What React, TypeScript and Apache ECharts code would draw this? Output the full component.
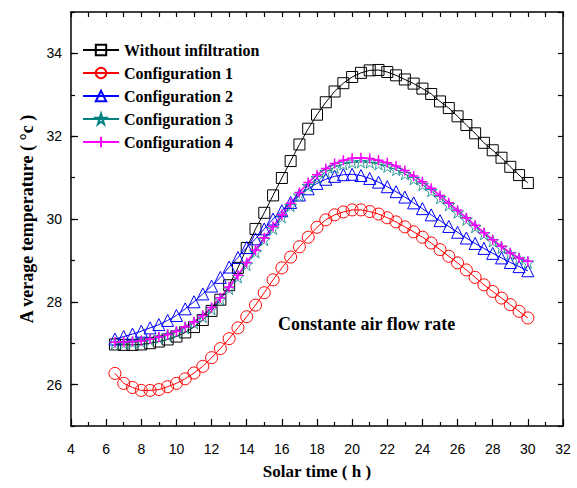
import React, { useEffect, useRef } from "react";
import * as echarts from "echarts";

// Solar time (h)
const hours = [
  6.5, 7, 7.5, 8, 8.5, 9, 9.5, 10, 10.5, 11, 11.5, 12, 12.5, 13, 13.5, 14,
  14.5, 15, 15.5, 16, 16.5, 17, 17.5, 18, 18.5, 19, 19.5, 20, 20.5, 21, 21.5,
  22, 22.5, 23, 23.5, 24, 24.5, 25, 25.5, 26, 26.5, 27, 27.5, 28, 28.5, 29,
  29.5, 30,
];

// Average temperature (°C) for each case
const withoutInfiltration = [
  26.97, 26.96, 26.96, 26.97, 27.0, 27.04, 27.09, 27.16, 27.26, 27.39, 27.56,
  27.78, 28.05, 28.4, 28.82, 29.3, 29.76, 30.15, 30.57, 30.99, 31.4, 31.8,
  32.18, 32.52, 32.82, 33.08, 33.28, 33.43, 33.53, 33.59, 33.6, 33.55, 33.47,
  33.37, 33.27, 33.15, 33.02, 32.84, 32.68, 32.48, 32.27, 32.07, 31.84, 31.66,
  31.48, 31.26, 31.06, 30.87,
];
const configuration1 = [
  26.27, 26.03, 25.93, 25.86, 25.86, 25.88, 25.95, 26.03, 26.14, 26.28, 26.44,
  26.65, 26.87, 27.11, 27.37, 27.64, 27.92, 28.22, 28.53, 28.82, 29.08, 29.33,
  29.56, 29.8, 29.98, 30.1, 30.17, 30.22, 30.22, 30.18, 30.12, 30.03, 29.93,
  29.81, 29.69, 29.56, 29.42, 29.26, 29.1, 28.94, 28.77, 28.59, 28.41, 28.25,
  28.09, 27.93, 27.77, 27.61,
];
const configuration2 = [
  27.1, 27.16, 27.22, 27.29, 27.37, 27.45, 27.55, 27.67, 27.83, 28.0, 28.19,
  28.38, 28.59, 28.84, 29.07, 29.31, 29.52, 29.76, 30.0, 30.2, 30.4, 30.58,
  30.73, 30.86, 30.96, 31.03, 31.07, 31.08, 31.05, 30.98, 30.89, 30.78, 30.66,
  30.53, 30.39, 30.25, 30.1, 29.96, 29.82, 29.68, 29.54, 29.41, 29.29, 29.17,
  29.06, 28.95, 28.85, 28.75,
];
const configuration3 = [
  27.0, 27.0, 27.02, 27.04, 27.08, 27.13, 27.19, 27.27, 27.37, 27.49, 27.64,
  27.83, 28.06, 28.32, 28.6, 28.9, 29.2, 29.5, 29.77, 30.05, 30.32, 30.57,
  30.8, 30.99, 31.14, 31.25, 31.33, 31.37, 31.38, 31.37, 31.33, 31.27, 31.19,
  31.09, 30.97, 30.83, 30.68, 30.51, 30.34, 30.16, 29.99, 29.81, 29.64, 29.47,
  29.31, 29.16, 29.04, 28.95,
];
const configuration4 = [
  27.02, 27.03, 27.04, 27.06, 27.1, 27.15, 27.21, 27.29, 27.4, 27.52, 27.67,
  27.86, 28.1, 28.36, 28.64, 28.95, 29.25, 29.55, 29.82, 30.1, 30.38, 30.64,
  30.88, 31.07, 31.22, 31.34, 31.42, 31.47, 31.48, 31.46, 31.42, 31.36, 31.28,
  31.17, 31.04, 30.9, 30.74, 30.57, 30.39, 30.21, 30.03, 29.85, 29.67, 29.5,
  29.34, 29.18, 29.06, 28.98,
];

const seriesNames = [
  "Without infiltration",
  "Configuration 1",
  "Configuration 2",
  "Configuration 3",
  "Configuration 4",
];

const yMajorTicks = [26, 28, 30, 32, 34];

const STAR =
  "path://M50,0 L61,35 L98,35 L68,57 L79,91 L50,70 L21,91 L32,57 L2,35 L39,35 Z";
const CROSS = "path://M5,0 L5,10 M0,5 L10,5";

const SERIF = "'Liberation Serif', 'Times New Roman', serif";
const SANS = "'Liberation Sans', Arial, sans-serif";

const pair = (ys: number[]) => hours.map((h, i) => [h, ys[i]]);

export default function App() {
  const ref = useRef<HTMLDivElement>(null);

  useEffect(() => {
    if (!ref.current) return;
    const chart = echarts.init(ref.current, null, { renderer: "svg" });

    const mk = (
      name: string,
      data: number[],
      color: string,
      symbol: string,
      symbolSize: number,
      borderWidth = 1,
      lineWidth = 1
    ) => ({
      name,
      type: "line",
      data: pair(data),
      symbol,
      symbolSize,
      showSymbol: true,
      lineStyle: { color, width: lineWidth },
      itemStyle: { color: "none", borderColor: color, borderWidth },
      emphasis: { disabled: true },
    });

    chart.setOption({
      animation: false,
      backgroundColor: "#fff",
      grid: { left: 71, right: 14, top: 12, bottom: 62 },
      legend: {
        orient: "vertical",
        left: 77,
        top: 37,
        itemWidth: 36,
        itemHeight: 13,
        itemGap: 7,
        data: seriesNames,
        textStyle: {
          fontFamily: SERIF,
          fontWeight: "bold",
          fontSize: 16,
          color: "#000",
        },
      },
      xAxis: [
        {
          type: "value",
          min: 4,
          max: 32,
          interval: 2,
          name: "Solar time ( h )",
          nameLocation: "middle",
          nameGap: 37,
          nameTextStyle: {
            fontFamily: SERIF,
            fontWeight: "bold",
            fontSize: 17,
            color: "#000",
          },
          axisLine: { lineStyle: { color: "#000", width: 1.5 } },
          axisTick: { inside: true, length: 7, lineStyle: { color: "#000", width: 1.2 } },
          minorTick: { show: true, splitNumber: 2, length: 4, lineStyle: { color: "#000", width: 1.2 } },
          axisLabel: { margin: 16, fontFamily: SANS, fontSize: 14, color: "#000" },
          splitLine: { show: false },
        },
        {
          type: "value",
          position: "top",
          min: 4,
          max: 32,
          interval: 1,
          axisLine: { lineStyle: { color: "#000", width: 1.5 } },
          axisTick: { inside: true, length: 5, lineStyle: { color: "#000", width: 1.2 } },
          axisLabel: { show: false },
          splitLine: { show: false },
        },
      ],
      yAxis: [
        {
          type: "value",
          min: 25,
          max: 35,
          name: "A verage temperature ( °c )",
          nameLocation: "middle",
          nameRotate: 90,
          nameGap: 34,
          nameTextStyle: {
            fontFamily: SERIF,
            fontWeight: "bold",
            fontSize: 18,
            color: "#000",
          },
          axisLine: { lineStyle: { color: "#000", width: 1.5 } },
          axisTick: {
            inside: true,
            length: 7,
            customValues: yMajorTicks,
            lineStyle: { color: "#000", width: 1.2 },
          },
          axisLabel: {
            customValues: yMajorTicks,
            margin: 9,
            fontFamily: SANS,
            fontSize: 14,
            color: "#000",
          },
          splitLine: { show: false },
        },
        {
          type: "value",
          position: "left",
          min: 25,
          max: 35,
          interval: 1,
          axisLine: { show: false },
          axisTick: { inside: true, length: 4, lineStyle: { color: "#000", width: 1.2 } },
          axisLabel: { show: false },
          splitLine: { show: false },
        },
        {
          type: "value",
          position: "right",
          min: 25,
          max: 35,
          interval: 1,
          axisLine: { show: true, lineStyle: { color: "#000", width: 1.5 } },
          axisTick: { inside: true, length: 5, lineStyle: { color: "#000", width: 1.2 } },
          axisLabel: { show: false },
          splitLine: { show: false },
        },
      ],
      graphic: [
        {
          type: "text",
          left: 278,
          top: 315,
          style: {
            text: "Constante air flow rate",
            font: `bold 18px ${SERIF}`,
            fill: "#000",
          },
        },
      ],
      series: [
        mk(seriesNames[0], withoutInfiltration, "#000000", "rect", 11),
        mk(seriesNames[1], configuration1, "#ff0000", "circle", 12),
        mk(seriesNames[2], configuration2, "#0000ff", "triangle", 12),
        mk(seriesNames[3], configuration3, "#008080", STAR, 12, 0.8),
        mk(seriesNames[4], configuration4, "#ff00ff", CROSS, 10, 1.5, 1.6),
      ],
    });

    return () => chart.dispose();
  }, []);

  return (
    <div
      ref={ref}
      style={{ position: "absolute", left: 0, top: 0, width: 577, height: 488 }}
    />
  );
}
